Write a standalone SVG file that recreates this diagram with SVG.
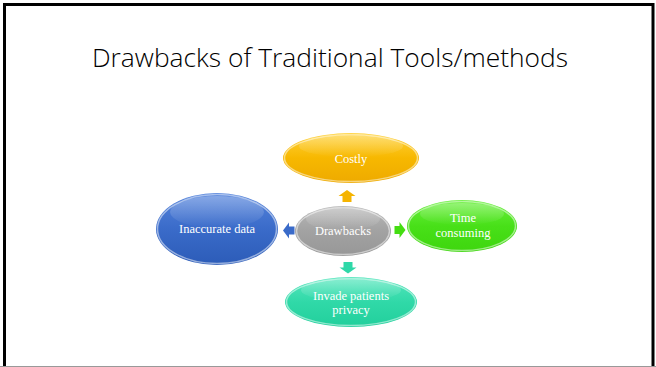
<svg xmlns="http://www.w3.org/2000/svg" width="656" height="367" viewBox="0 0 656 367">
<defs>
<style>
.lbl{font-family:"Liberation Serif","Times New Roman",serif;font-size:12.5px;fill:#fff;text-anchor:middle}
.title{font-family:"Open Sans","Liberation Sans",sans-serif;font-weight:300;font-size:26px;fill:#000}
.rim{fill:none;stroke:#ffffff;stroke-opacity:0.5;stroke-width:1.5}
.gloss{fill:url(#gloss)}
</style>
<linearGradient id="gGold" x1="0" y1="0" x2="0" y2="1"><stop offset="0" stop-color="#ffd23a"/><stop offset="0.5" stop-color="#f7b800"/><stop offset="1" stop-color="#eeaa00"/></linearGradient>
<linearGradient id="gBlue" x1="0" y1="0" x2="0" y2="1"><stop offset="0" stop-color="#5584dc"/><stop offset="0.5" stop-color="#3a6bc9"/><stop offset="1" stop-color="#2c5cb8"/></linearGradient>
<linearGradient id="gGray" x1="0" y1="0" x2="0" y2="1"><stop offset="0" stop-color="#b8b8b8"/><stop offset="0.5" stop-color="#a2a2a2"/><stop offset="1" stop-color="#979797"/></linearGradient>
<linearGradient id="gGreen" x1="0" y1="0" x2="0" y2="1"><stop offset="0" stop-color="#6cf040"/><stop offset="0.5" stop-color="#48e018"/><stop offset="1" stop-color="#3ed60e"/></linearGradient>
<linearGradient id="gTeal" x1="0" y1="0" x2="0" y2="1"><stop offset="0" stop-color="#55e6bd"/><stop offset="0.5" stop-color="#30d9a8"/><stop offset="1" stop-color="#22cf9c"/></linearGradient>
<linearGradient id="gloss" x1="0" y1="0" x2="0" y2="1"><stop offset="0" stop-color="#fff" stop-opacity="0.3"/><stop offset="1" stop-color="#fff" stop-opacity="0"/></linearGradient>
</defs>
<rect x="0" y="0" width="656" height="367" fill="#fff"/>
<rect x="4.5" y="4.5" width="648.5" height="375" fill="none" stroke="#000" stroke-width="3"/>
<line x1="0" y1="366.5" x2="656" y2="366.5" stroke="#999" stroke-width="1"/>
<text class="title" x="330" y="67" text-anchor="middle" textLength="476" lengthAdjust="spacingAndGlyphs">Drawbacks of Traditional Tools/methods</text>

<g id="connectors">
<path d="M347 190 L355.5 196 L351.5 196 L351.5 202 L342.5 202 L342.5 196 L338.5 196 Z" fill="#f5b400"/>
<path d="M283 230.5 L289 222.5 L289 226.5 L294.5 226.5 L294.5 234.5 L289 234.5 L289 238.5 Z" fill="#3a6bc9"/>
<path d="M405.5 230 L399.5 222 L399.5 226 L394.5 226 L394.5 234 L399.5 234 L399.5 238 Z" fill="#44dd11"/>
<path d="M348 273.5 L356.5 267.5 L352.5 267.5 L352.5 262 L343.5 262 L343.5 267.5 L339.5 267.5 Z" fill="#2ed8a8"/>
</g>

<g id="costly">
<ellipse cx="351" cy="158" rx="68" ry="25" fill="url(#gGold)"/>
<ellipse cx="351" cy="158" rx="66.5" ry="23.5" class="rim"/>
<ellipse cx="351" cy="146" rx="52" ry="11" class="gloss"/>
<text class="lbl" x="351" y="163">Costly</text>
</g>

<g id="inaccurate">
<ellipse cx="217" cy="229" rx="61" ry="36" fill="url(#gBlue)"/>
<ellipse cx="217" cy="229" rx="59.5" ry="34.5" class="rim"/>
<ellipse cx="217" cy="212" rx="47" ry="16" class="gloss"/>
<text class="lbl" x="217" y="233">Inaccurate data</text>
</g>

<g id="drawbacks">
<ellipse cx="343" cy="231" rx="48" ry="25" fill="url(#gGray)"/>
<ellipse cx="343" cy="231" rx="46.5" ry="23.5" class="rim"/>
<ellipse cx="343" cy="219" rx="37" ry="11" class="gloss"/>
<text class="lbl" x="343" y="235">Drawbacks</text>
</g>

<g id="time">
<ellipse cx="462" cy="226" rx="55" ry="26" fill="url(#gGreen)"/>
<ellipse cx="462" cy="226" rx="53.5" ry="24.5" class="rim"/>
<ellipse cx="462" cy="214" rx="42" ry="11" class="gloss"/>
<text class="lbl" x="463" y="222">Time</text>
<text class="lbl" x="463" y="237">consuming</text>
</g>

<g id="invade">
<ellipse cx="351" cy="302" rx="66" ry="25" fill="url(#gTeal)"/>
<ellipse cx="351" cy="302" rx="64.5" ry="23.5" class="rim"/>
<ellipse cx="351" cy="290" rx="50" ry="11" class="gloss"/>
<text class="lbl" x="351" y="300">Invade patients</text>
<text class="lbl" x="351" y="314">privacy</text>
</g>
</svg>
